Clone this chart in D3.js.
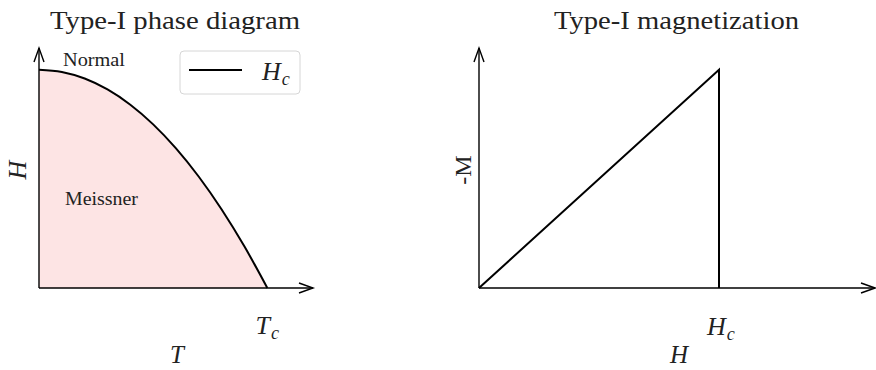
<!DOCTYPE html>
<html>
<head>
<meta charset="utf-8">
<script src="https://cdn.jsdelivr.net/npm/d3@7"></script>
<style>
  html, body { margin: 0; padding: 0; background: #fff; }
  svg text { font-family: "Liberation Serif", "DejaVu Serif", serif; fill: #222; }
</style>
</head>
<body>
<svg id="chart" width="876" height="370"></svg>
<script>
// Critical field curve Hc(T), reduced units (T/Tc, H/Hc0)
const temperature = [0, 0.1, 0.2, 0.3, 0.4, 0.5, 0.6, 0.7, 0.8, 0.9, 1.0];
const criticalField = [1.0, 0.99, 0.96, 0.91, 0.84, 0.75, 0.64, 0.51, 0.36, 0.19, 0.0];

// Magnetization curve: -M rises linearly up to Hc, then drops to zero
const appliedField = [0, 1.0, 1.0];
const negMagnetization = [0, 1.0, 0];

const phaseLabels = ["Normal", "Meissner"];
const titles = ["Type-I phase diagram", "Type-I magnetization"];

const svg = d3.select("#chart");

function arrowAxes(g, x, y, xMax, yMax) {
  const x0 = x(0), y0 = y(0), xe = x(xMax), ye = y(yMax);
  const ax = g.append("g").attr("stroke", "#000").attr("stroke-width", 1.4).attr("fill", "none");
  ax.append("line").attr("x1", x0).attr("y1", y0).attr("x2", xe).attr("y2", y0);
  ax.append("line").attr("x1", x0).attr("y1", y0).attr("x2", x0).attr("y2", ye);
  ax.append("path").attr("d", `M${xe - 14},${y0 - 5}L${xe},${y0}L${xe - 14},${y0 + 5}`);
  ax.append("path").attr("d", `M${x0 - 5},${ye + 14}L${x0},${ye}L${x0 + 5},${ye + 14}`);
}

function subLabel(g, px, py, main, sub, size, anchor) {
  const t = g.append("text").attr("x", px).attr("y", py).attr("text-anchor", anchor || "middle")
    .attr("font-size", size).attr("font-style", "italic");
  t.append("tspan").text(main);
  t.append("tspan").attr("font-size", size * 0.7).attr("dy", size * 0.2).attr("dx", 1).text(sub);
  return t;
}

// ---- Left panel: phase diagram ----
{
  const x = d3.scaleLinear().domain([0, 1.2]).range([39, 313]);
  const y = d3.scaleLinear().domain([0, 1.1]).range([288, 48]);
  const g = svg.append("g");
  const pts = temperature.map((t, i) => [t, criticalField[i]]);

  g.append("path")
    .datum(pts)
    .attr("fill", "#fde4e4")
    .attr("d", d3.area().x(d => x(d[0])).y0(y(0)).y1(d => y(d[1])).curve(d3.curveMonotoneX));

  arrowAxes(g, x, y, 1.2, 1.1);

  g.append("path")
    .datum(pts)
    .attr("fill", "none").attr("stroke", "#000").attr("stroke-width", 2)
    .attr("d", d3.line().x(d => x(d[0])).y(d => y(d[1])).curve(d3.curveMonotoneX));

  g.append("text").attr("x", 63).attr("y", 66).attr("font-size", 18)
    .attr("textLength", 62).attr("lengthAdjust", "spacingAndGlyphs").text(phaseLabels[0]);
  g.append("text").attr("x", 65).attr("y", 205).attr("font-size", 18)
    .attr("textLength", 73).attr("lengthAdjust", "spacingAndGlyphs").text(phaseLabels[1]);

  g.append("text").attr("x", 50).attr("y", 29).attr("font-size", 25)
    .attr("textLength", 250).attr("lengthAdjust", "spacingAndGlyphs").text(titles[0]);

  subLabel(g, x(1), 334, "T", "c", 26);
  g.append("text").attr("x", 177).attr("y", 363).attr("text-anchor", "middle")
    .attr("font-size", 25).attr("font-style", "italic").text("T");
  g.append("text").attr("transform", "translate(26,170) rotate(-90)").attr("text-anchor", "middle")
    .attr("font-size", 26).attr("font-style", "italic").text("H");

  // Legend
  const lg = g.append("g");
  lg.append("rect").attr("x", 180).attr("y", 51).attr("width", 120).attr("height", 43)
    .attr("rx", 4).attr("fill", "#fff").attr("fill-opacity", 0.85).attr("stroke", "#d6d6d6");
  lg.append("line").attr("x1", 189).attr("x2", 242).attr("y1", 70).attr("y2", 70)
    .attr("stroke", "#000").attr("stroke-width", 2);
  subLabel(lg, 262, 80, "H", "c", 26, "start");
}

// ---- Right panel: magnetization ----
{
  const x = d3.scaleLinear().domain([0, 1.65]).range([479, 875]);
  const y = d3.scaleLinear().domain([0, 1.1]).range([288, 48]);
  const g = svg.append("g");

  arrowAxes(g, x, y, 1.65, 1.1);

  const pts = appliedField.map((h, i) => [h, negMagnetization[i]]);
  g.append("path")
    .datum(pts)
    .attr("fill", "none").attr("stroke", "#000").attr("stroke-width", 2)
    .attr("d", d3.line().x(d => x(d[0])).y(d => y(d[1])));

  g.append("text").attr("x", 554).attr("y", 29).attr("font-size", 25)
    .attr("textLength", 245).attr("lengthAdjust", "spacingAndGlyphs").text(titles[1]);

  subLabel(g, x(1) + 2, 335, "H", "c", 26);
  g.append("text").attr("x", 679).attr("y", 363).attr("text-anchor", "middle")
    .attr("font-size", 25).attr("font-style", "italic").text("H");
  g.append("text").attr("transform", "translate(471,170) rotate(-90)").attr("text-anchor", "middle")
    .attr("font-size", 24).text("-M");
}
</script>
</body>
</html>
